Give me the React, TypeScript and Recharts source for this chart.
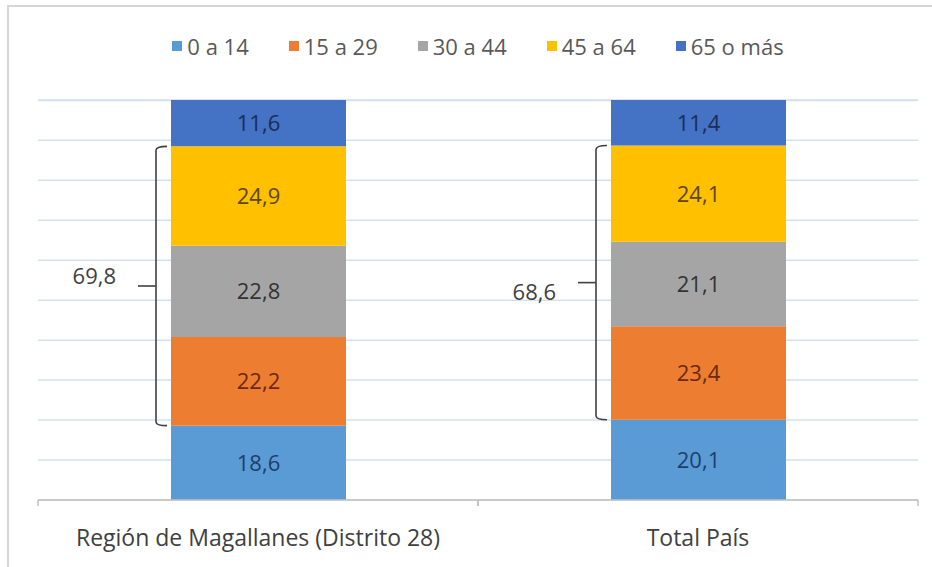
import { BarChart, Bar, XAxis, YAxis, CartesianGrid, Legend, LabelList } from 'recharts'

const categories = ['Región de Magallanes (Distrito 28)', 'Total País']
const age0to14 = [18.6, 20.1]
const age15to29 = [22.2, 23.4]
const age30to44 = [22.8, 21.1]
const age45to64 = [24.9, 24.1]
const age65plus = [11.6, 11.4]
// bracket labels (15 a 64), as printed on the chart
const workingAge = [69.8, 68.6]
const yTicks = [0, 10, 20, 30, 40, 50, 60, 70, 80, 90, 100]

const series = [
  { key: 'a0', name: '0 a 14', fill: '#5B9BD5', text: '#1F3E6B' },
  { key: 'a15', name: '15 a 29', fill: '#ED7D31', text: '#6B2A0A' },
  { key: 'a30', name: '30 a 44', fill: '#A5A5A5', text: '#333333' },
  { key: 'a45', name: '45 a 64', fill: '#FFC000', text: '#5E4500' },
  { key: 'a65', name: '65 o más', fill: '#4472C4', text: '#1A2D55' },
]

const data = categories.map((name, i) => ({
  name,
  a0: age0to14[i],
  a15: age15to29[i],
  a30: age30to44[i],
  a45: age45to64[i],
  a65: age65plus[i],
}))

const FONT = '"Open Sans", "Liberation Sans", sans-serif'
const fmt = (v: any) => Number(v).toFixed(1).replace('.', ',')
const braceLabelShift = [-11, 8]

const renderBrace = (props: any) => {
  const { x, y, height, value, index } = props
  const ppu = height / value
  const top = y - age45to64[index] * ppu
  const bottom = y + height + age15to29[index] * ppu
  const bx = x - 15
  const mid = (top + bottom) / 2
  return (
    <g>
      <path
        d={`M ${x - 4} ${top} Q ${bx} ${top} ${bx} ${top + 4} L ${bx} ${bottom - 4} Q ${bx} ${bottom} ${x - 4} ${bottom}`}
        stroke="#404040"
        strokeWidth={1.6}
        fill="none"
      />
      <line x1={bx - 18} y1={mid} x2={bx} y2={mid} stroke="#404040" strokeWidth={1.6} />
      <text
        x={bx - 40}
        y={mid + braceLabelShift[index]}
        textAnchor="end"
        dominantBaseline="central"
        fontFamily={FONT}
        fontSize={22}
        fill="#404040"
      >
        {fmt(workingAge[index])}
      </text>
    </g>
  )
}

const CategoryTick = (props: any) => {
  const { x, y, payload } = props
  const half = payload?.offset || 220
  return (
    <g>
      <line x1={x - half} y1={y} x2={x - half} y2={y + 6} stroke="#bfbfbf" strokeWidth={1.5} />
      <line x1={x + half} y1={y} x2={x + half} y2={y + 6} stroke="#bfbfbf" strokeWidth={1.5} />
      <text x={x} y={y + 37} textAnchor="middle" dominantBaseline="central" fontFamily={FONT} fontSize={23} fill="#404040">
        {payload.value}
      </text>
    </g>
  )
}

const renderLegend = () => (
  <div
    style={{
      display: 'flex',
      justifyContent: 'center',
      gap: 40,
      fontFamily: FONT,
      fontSize: 22,
      color: '#595959',
      lineHeight: '26px',
    }}
  >
    {series.map((s) => (
      <span key={s.key} style={{ display: 'flex', alignItems: 'center' }}>
        <span style={{ width: 10, height: 10, background: s.fill, marginRight: 5, display: 'inline-block' }} />
        {s.name}
      </span>
    ))}
  </div>
)

export default function App() {
  return (
    <div style={{ position: 'absolute', left: 0, top: 0, width: 932, height: 567, background: '#fff' }}>
      <div
        style={{
          position: 'absolute',
          left: 7,
          top: 5,
          right: 0,
          bottom: 0,
          borderLeft: '2px solid #d6d6d6',
          borderTop: '2px solid #d6d6d6',
        }}
      />
      <div style={{ position: 'absolute', left: 0, top: 0 }}>
        <BarChart width={932} height={567} data={data} margin={{ top: 100, right: 14, bottom: 27, left: 38 }}>
          <CartesianGrid horizontal vertical={false} stroke="#d3e1ef" strokeWidth={1.5} />
          <XAxis
            dataKey="name"
            height={40}
            axisLine={{ stroke: '#bfbfbf', strokeWidth: 1.5 }}
            tickLine={false}
            tickSize={0}
            tickMargin={0}
            tick={<CategoryTick />}
            interval={0}
          />
          <YAxis hide domain={[0, 100]} ticks={yTicks} />
          <Legend
            verticalAlign="middle"
            content={renderLegend}
            wrapperStyle={{ top: 33, left: 38, width: 880 }}
          />
          {series.map((s) => (
            <Bar key={s.key} dataKey={s.key} name={s.name} stackId="pop" fill={s.fill} barSize={175} isAnimationActive={false}>
              <LabelList
                dataKey={s.key}
                position="center"
                formatter={fmt}
                fill={s.text}
                fontFamily={FONT}
                fontSize={22}
              />
              {s.key === 'a30' && <LabelList dataKey={s.key} content={renderBrace} />}
            </Bar>
          ))}
        </BarChart>
      </div>
    </div>
  )
}
